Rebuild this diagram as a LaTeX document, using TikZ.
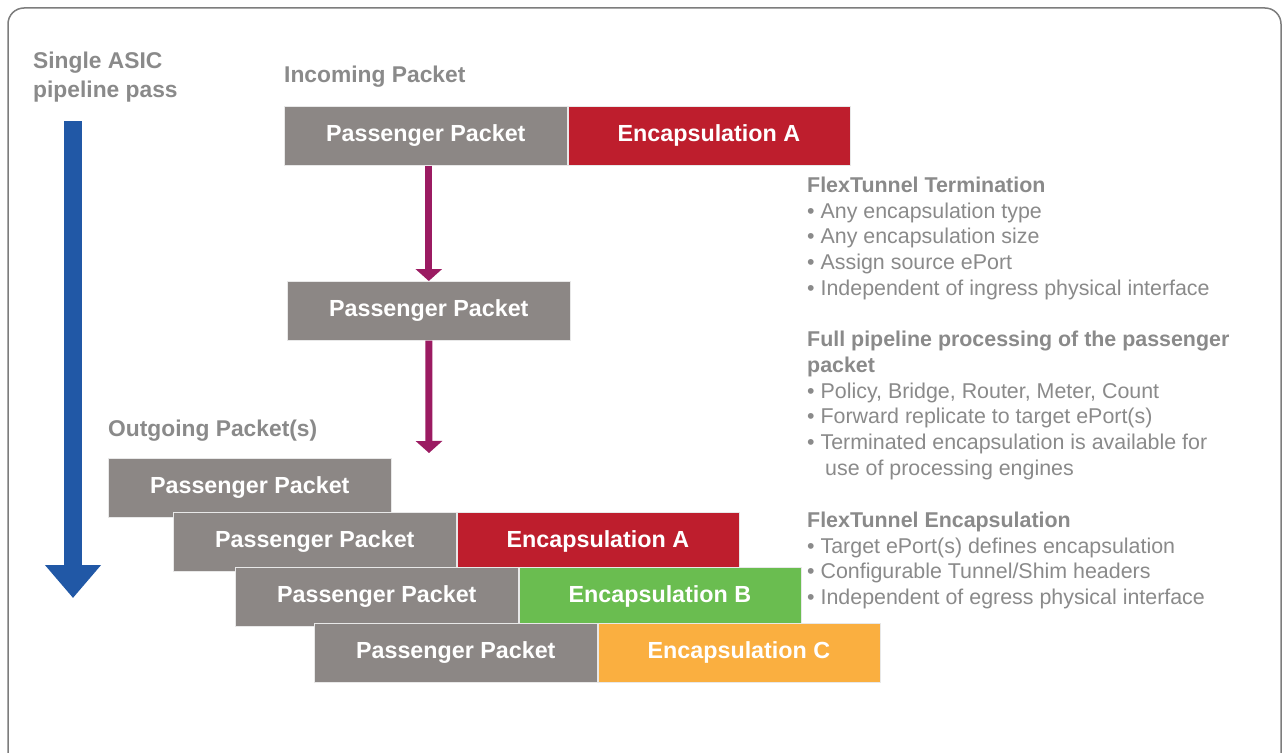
\documentclass[tikz,border=0pt]{standalone}
\usepackage{fontspec}
\setmainfont{Liberation Sans}
\usetikzlibrary{arrows.meta,positioning}
\definecolor{pgray}{RGB}{140,135,133}
\definecolor{encA}{RGB}{190,30,45}
\definecolor{encB}{RGB}{106,189,80}
\definecolor{encC}{RGB}{250,175,64}
\definecolor{txtgray}{RGB}{138,138,138}
\definecolor{framegray}{RGB}{125,125,125}
\definecolor{arrblue}{RGB}{33,88,166}
\definecolor{arrpurple}{RGB}{155,27,98}
\begin{document}
\begin{tikzpicture}[x=1pt,y=-1pt,
  boxbase/.style={draw=white!82!gray, line width=0.6pt, minimum height=59pt, inner sep=0pt,
    text=white, font=\fontsize{23.3}{27}\selectfont\bfseries},
  pkt/.style={boxbase, fill=pgray, minimum width=283pt},
  enc/.style={boxbase, minimum width=282pt},
  head/.style={anchor=base west, inner sep=0pt, text=txtgray, font=\fontsize{22.8}{27}\selectfont\bfseries},
  rhead/.style={anchor=base west, inner sep=0pt, text=txtgray, font=\fontsize{21.4}{25}\selectfont\bfseries},
  rtxt/.style={anchor=base west, inner sep=0pt, text=txtgray, font=\fontsize{21.4}{25}\selectfont},
  parrow/.style={draw=arrpurple, line width=7pt, -{Triangle[width=26pt,length=12pt]}},
  barrow/.style={draw=arrblue, line width=18pt, -{Triangle[width=54pt,length=33pt]}}
]
\useasboundingbox (0,0) rectangle (1287,752);
\fill[white] (0,0) rectangle (1287,752);
\draw[framegray, line width=1.5pt, rounded corners=16pt] (8,8) rectangle (1281,775);

% left heading and blue arrow
\node[head] (single) at (33,68) {Single ASIC};
\node[head] (pipe) at (33,97) {pipeline pass};
\coordinate (bs) at (73,121);
\coordinate (be) at (73,598);
\draw[barrow] (bs) -- (be);

% incoming packet
\node[head] (inc) at (284,82) {Incoming Packet};
\node[pkt, anchor=north west] (pp1) at (284,106) {Passenger Packet};
\node[enc, fill=encA, right=0pt of pp1] (ea1) {Encapsulation A};

% middle packet
\node[pkt, anchor=north west] (pp2) at (287,281) {Passenger Packet};
\draw[parrow] (pp2.north |- pp1.south) -- (pp2.north);
\coordinate (outend) at (429,453);
\draw[parrow] (pp2.south) -- (outend);

% outgoing packets
\node[head] (out) at (108,436) {Outgoing Packet(s)};
\node[pkt, anchor=north west] (o1) at (108,458) {Passenger Packet};
\node[pkt, anchor=north west] (o2) at (173,512) {Passenger Packet};
\node[enc, fill=encA, right=0pt of o2] (o2e) {Encapsulation A};
\node[pkt, anchor=north west] (o3) at (235,567) {Passenger Packet};
\node[enc, fill=encB, right=0pt of o3] (o3e) {Encapsulation B};
\node[pkt, anchor=north west] (o4) at (314,623) {Passenger Packet};
\node[enc, fill=encC, right=0pt of o4] (o4e) {Encapsulation C};

% right text
\node[rhead] (t1) at (807,192) {FlexTunnel Termination};
\node[rtxt] (t2) at (807,218) {• Any encapsulation type};
\node[rtxt] (t3) at (807,243) {• Any encapsulation size};
\node[rtxt] (t4) at (807,269) {• Assign source ePort};
\node[rtxt] (t5) at (807,295) {• Independent of ingress physical interface};
\node[rhead] (f1) at (807,346) {Full pipeline processing of the passenger};
\node[rhead] (f2) at (807,372) {packet};
\node[rtxt] (f3) at (807,398) {• Policy, Bridge, Router, Meter, Count};
\node[rtxt] (f4) at (807,423) {• Forward replicate to target ePort(s)};
\node[rtxt] (f5) at (807,449) {• Terminated encapsulation is available for};
\node[rtxt] (f6) at (825,475) {use of processing engines};
\node[rhead] (e1) at (807,527) {FlexTunnel Encapsulation};
\node[rtxt] (e2) at (807,553) {• Target ePort(s) defines encapsulation};
\node[rtxt] (e3) at (807,578) {• Configurable Tunnel/Shim headers};
\node[rtxt] (e4) at (807,604) {• Independent of egress physical interface};
\end{tikzpicture}
\end{document}
